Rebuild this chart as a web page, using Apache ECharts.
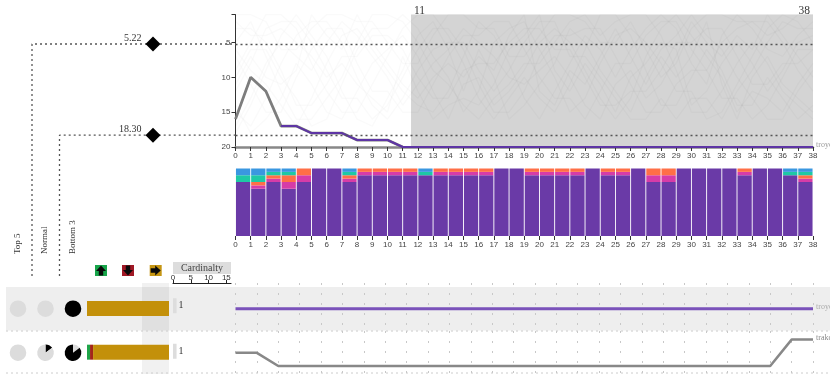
<!DOCTYPE html>
<html><head><meta charset="utf-8">
<style>html,body{margin:0;padding:0;background:#fff}#c{width:830px;height:374px}</style>
<script src="https://cdn.jsdelivr.net/npm/echarts@6/dist/echarts.min.js"></script>
</head><body><div id="c"></div>
<script>
const thresholds = [5.22, 18.30];
const rangeStart = 11.55, rangeEnd = 38;
const focusRanks = [16,10,12,17,17,18,18,18,19,19,19,20];
const purpleRanks = [null,null,null,17,17,18,18,18,19,19,19,20,20,20,20,20,20,20,20,20,20,20,20,20,20,20,20,20,20,20,20,20,20,20,20,20,20,20,20];
const blueCounts    = [2,2,1,1,0,0,0,1,0,0,0,0,1,0,0,0,0,0,0,0,0,0,0,0,0,0,0,0,0,0,0,0,0,0,0,0,1,1];
const tealCounts    = [2,2,1,1,0,0,0,1,0,0,0,0,1,0,0,0,0,0,0,0,0,0,0,0,0,0,0,0,0,0,0,0,0,0,0,0,1,1];
const orangeCounts  = [0,1,1,2,2,0,0,1,1,1,1,1,0,1,1,1,1,0,0,1,1,1,1,0,1,1,0,2,2,0,0,0,0,1,0,0,0,1];
const magentaCounts = [0,1,1,2,2,0,0,1,1,1,1,1,0,1,1,1,1,0,0,1,1,1,1,0,1,1,0,2,2,0,0,0,0,1,0,0,0,1];
const purpleCounts  = [16,14,16,14,16,20,20,16,18,18,18,18,18,18,18,18,18,20,20,18,18,18,18,20,18,18,20,16,16,20,20,20,20,18,20,20,18,16];
const rowOneTrend = [0,0,0,0,0,0,0,0,0,0,0,0,0,0,0,0,0,0,0,0,0,0,0,0,0,0,0,0];
const rowTwoTrend = [1,1,0,0,0,0,0,0,0,0,0,0,0,0,0,0,0,0,0,0,0,0,0,0,0,0,2,2];
const upMoves = [0,1], downMoves = [0,1], flatMoves = [27,25];
const cardinality = [1,1];
const topShare = [[0,27],[0,27]];
const normalShare = [[0,27],[4,23]];
const bottomShare = [[27,0],[0,4,23]];
const backgroundRanks = [
[3,3,5,9,14,14,11,7,7,4,4,6,10,13,13,9,8,8,5,3,3,6,6,10,14,14,12,12,9,5,5,3,3,7,11,11,8,8,6],
[7,11,15,15,10,6,3,3,8,12,12,15,15,11,7,4,4,2,2,6,10,13,13,16,12,8,8,4,2,2,6,9,13,13,16,14,10,6,6],
[12,8,3,2,2,5,9,13,13,16,14,10,6,3,3,6,11,15,15,12,7,4,4,3,3,7,11,15,15,11,9,9,5,3,2,2,5,9,12],
[1,1,2,6,6,3,1,1,2,2,5,8,8,4,1,1,3,3,7,7,4,1,1,2,5,5,2,6,10,8,3,1,1,2,2,4,3,1,1],
[15,17,13,8,4,2,2,5,10,14,16,13,9,6,5,5,9,12,9,5,2,2,7,7,10,13,16,16,13,16,13,13,16,12,9,5,2,3,3],
[9,5,1,1,3,8,12,15,15,11,7,3,1,1,4,8,13,16,13,10,13,15,11,6,1,1,4,9,14,14,10,6,9,14,14,10,13,16,14],
[5,2,7,12,16,16,13,10,5,1,1,2,5,9,11,14,16,13,11,8,8,5,2,1,4,2,1,1,4,9,15,15,12,8,5,8,12,14,16],
[18,14,9,4,1,4,7,12,16,17,13,9,4,2,6,12,6,10,16,14,11,8,3,5,9,12,15,10,6,4,1,4,6,10,13,16,16,12,9],
[10,6,6,10,13,17,16,11,6,3,3,1,3,7,10,15,12,5,3,2,6,10,15,13,8,4,3,5,8,12,12,16,15,11,7,3,1,2,5],
[14,18,16,13,8,11,15,16,12,8,6,4,7,12,16,11,10,14,12,9,5,3,5,9,13,16,13,7,3,1,4,7,10,15,12,13,15,11,8],
[6,9,11,14,17,13,8,4,3,6,9,12,14,15,12,7,2,4,8,13,16,12,8,4,6,10,6,3,1,3,8,11,4,1,3,6,7,4,2],
[17,13,8,5,7,9,5,2,4,7,10,14,11,8,6,3,5,7,10,11,9,7,10,14,16,11,9,13,11,7,2,5,7,4,6,1,4,7,10],
[2,4,4,3,5,7,10,8,11,13,15,7,12,16,14,13,14,11,6,4,1,9,12,8,11,15,10,8,5,6,14,12,8,5,8,12,9,5,4],
[11,7,10,11,9,1,4,6,1,5,8,11,13,10,8,10,7,9,4,1,12,14,9,11,7,3,7,11,7,10,7,2,11,16,10,7,11,13,15]
];
const tickLabels = [];
for (let i = 0; i <= 38; i++) tickLabels.push(i);

const sans = 'Liberation Sans', serif = 'Liberation Serif';
const dash = {color:'#555', width:1.3, type:[2,3]};
const barCats = ['troye','trako'];
const chart = echarts.init(document.getElementById('c'), null, {renderer:'canvas'});

function pieSeries(d, cx, cy){
  return {type:'pie', silent:true, animation:false, center:[cx,cy], radius:[0,8.3], startAngle:90, z:3,
    label:{show:false}, labelLine:{show:false}, emphasis:{disabled:true}, data:d};
}
function blackGrey(vals){
  return [{value:vals[0],itemStyle:{color:'#000'}},{value:vals[1],itemStyle:{color:'#dcdcdc'}}];
}
function greyBlack(vals){
  return [{value:vals[1],itemStyle:{color:'#dcdcdc'}},{value:vals[2],itemStyle:{color:'#000'}}];
}
const stackItem = (name, data, color) => ({type:'bar', name, data, stack:'s', xAxisIndex:2, yAxisIndex:1, barCategoryGap:'6%', itemStyle:{color}, silent:true});

function arrow(cx, cy, rot, color){
  return [
    {type:'rect', shape:{x:cx-6,y:cy-5.5,width:12,height:11}, style:{fill:color}},
    {type:'polygon', x:cx, y:cy, rotation:rot, originX:0, originY:0,
     shape:{points:[[0,-5],[5,0.5],[2.2,0.5],[2.2,5],[-2.2,5],[-2.2,0.5],[-5,0.5]]}, style:{fill:'#0a0a0a'}}
  ];
}

const option = {
  animation:false,
  grid:[
    {left:235.5, width:577.5, top:14.6, height:132.4},
    {left:235.5, width:577.5, top:168.5, height:67.5},
    {left:235.5, width:577.5, top:283, height:48},
    {left:235.5, width:577.5, top:331, height:43},
    {left:87, width:82, top:286.7, height:88},
    {left:173, width:58, top:283, height:91.7},
    {left:0, width:235.5, top:14.6, height:261.4}
  ],
  xAxis:[
    {gridIndex:0,type:'value',min:0,max:38,interval:1,position:'bottom',splitLine:{show:false},
     axisLine:{lineStyle:{color:'#888',width:2.5}},axisTick:{length:4,lineStyle:{color:'#333'}},
     axisLabel:{fontFamily:sans,fontSize:8,color:'#444',margin:5,hideOverlap:false,showMinLabel:true,showMaxLabel:true}},
    {gridIndex:1,type:'value',min:0,max:38,interval:1,position:'bottom',splitLine:{show:false},
     axisLine:{show:false},axisTick:{show:true,length:4,lineStyle:{color:'#333'}},
     axisLabel:{fontFamily:sans,fontSize:8,color:'#444',margin:5,hideOverlap:false}},
    {gridIndex:1,type:'category',data:tickLabels.slice(0,38),show:false},
    {gridIndex:2,type:'value',min:0,max:27,interval:1,axisLine:{show:false},axisTick:{show:false},axisLabel:{show:false},
     splitLine:{show:true,lineStyle:{color:'#c8c8c8',width:1,type:[2,8]}}},
    {gridIndex:3,type:'value',min:0,max:27,interval:1,axisLine:{show:false},axisTick:{show:false},axisLabel:{show:false},
     splitLine:{show:true,lineStyle:{color:'#c8c8c8',width:1,type:[2,8]}}},
    {gridIndex:4,type:'value',min:0,max:27,show:false},
    {gridIndex:5,type:'value',min:0,max:16.3,position:'top',interval:5,splitLine:{show:false},
     axisLine:{show:true,onZero:false,lineStyle:{color:'#222',width:1.2}},
     axisTick:{show:true,length:3,lineStyle:{color:'#222'},customValues:[0,5,10,15]},
     axisLabel:{fontFamily:sans,fontSize:8,color:'#333',margin:1,customValues:[0,5,10,15]}},
    {gridIndex:6,type:'value',min:0,max:235.5,show:false}
  ],
  yAxis:[
    {gridIndex:0,type:'value',inverse:true,min:1,max:20,interval:5,splitLine:{show:false},
     axisLine:{show:true,onZero:false,lineStyle:{color:'#333'}},
     axisTick:{show:true,length:4,lineStyle:{color:'#333'},customValues:[1,5,10,15,20]},
     axisLabel:{fontFamily:sans,fontSize:8,color:'#444',margin:5,customValues:[5,10,15,20]}},
    {gridIndex:1,type:'value',min:0,max:20,show:false},
    {gridIndex:2,type:'value',min:-0.93,max:1.07,show:false},
    {gridIndex:3,type:'value',min:-0.6,max:2.65,show:false},
    {gridIndex:4,type:'category',inverse:true,data:barCats,show:false},
    {gridIndex:5,type:'category',inverse:true,data:barCats,show:false},
    {gridIndex:6,type:'value',inverse:true,min:1,max:38.5,show:false}
  ],
  series:[
    {type:'line',xAxisIndex:0,yAxisIndex:0,data:[],z:1,silent:true,
     markArea:{silent:true,itemStyle:{color:'#d4d4d4'},data:[[{xAxis:rangeStart,yAxis:1},{xAxis:rangeEnd,yAxis:20}]]}},
    ...backgroundRanks.map(r=>({type:'line',xAxisIndex:0,yAxisIndex:0,z:2,silent:true,showSymbol:false,
       lineStyle:{color:'rgba(0,0,0,0.02)',width:1.5},data:r.map((v,i)=>[i,v])})),
    {type:'line',xAxisIndex:0,yAxisIndex:0,z:3,silent:true,showSymbol:false,clip:false,
     markLine:{silent:true,symbol:'none',label:{show:false},lineStyle:dash,data:thresholds.map(t=>({yAxis:t}))},
     lineStyle:{color:'#7d7d7d',width:2.8},data:focusRanks.map((v,i)=>[i,v])},
    {type:'line',xAxisIndex:0,yAxisIndex:0,z:4,silent:true,showSymbol:false,clip:false,connectNulls:false,
     lineStyle:{color:'#5e35a5',width:2},data:purpleRanks.map((v,i)=>[i,v]),
     endLabel:{show:true,formatter:'troye',fontFamily:serif,fontSize:8,color:'#999',distance:3,offset:[0,-2]}},
    stackItem('purple',purpleCounts,'#6a3aa7'),
    stackItem('magenta',magentaCounts,'#d63ca8'),
    stackItem('orange',orangeCounts,'#ff6f47'),
    stackItem('teal',tealCounts,'#1ec9a5'),
    stackItem('blue',blueCounts,'#3a97e0'),
    {type:'line',xAxisIndex:3,yAxisIndex:2,z:3,silent:true,showSymbol:false,
     lineStyle:{color:'#7a52ba',width:3},data:rowOneTrend.map((v,i)=>[i,v]),
     endLabel:{show:true,formatter:'troye',fontFamily:serif,fontSize:8,color:'#aaa',distance:3,offset:[0,-2]}},
    {type:'line',xAxisIndex:4,yAxisIndex:3,z:3,silent:true,showSymbol:false,
     lineStyle:{color:'#888',width:2.5},data:rowTwoTrend.map((v,i)=>[i,v]),
     endLabel:{show:true,formatter:'trako',fontFamily:serif,fontSize:8,color:'#888',distance:3,offset:[0,-2]}},
    {type:'bar',xAxisIndex:5,yAxisIndex:4,stack:'m',barWidth:15,silent:true,itemStyle:{color:'#1fa54a'},data:upMoves},
    {type:'bar',xAxisIndex:5,yAxisIndex:4,stack:'m',barWidth:15,silent:true,itemStyle:{color:'#a3261b'},data:downMoves},
    {type:'bar',xAxisIndex:5,yAxisIndex:4,stack:'m',barWidth:15,silent:true,itemStyle:{color:'#c3900a'},data:flatMoves},
    {type:'bar',xAxisIndex:6,yAxisIndex:5,barWidth:15,silent:true,itemStyle:{color:'#dddddd'},data:cardinality,
     label:{show:true,position:'right',distance:2,fontFamily:serif,fontSize:10,color:'#333'}},
    ...thresholds.map((t,i)=>({type:'line',xAxisIndex:7,yAxisIndex:6,z:2,silent:true,showSymbol:false,
      lineStyle:dash,data:[[i===0?32:59.5,38.5],[i===0?32:59.5,t],[235.5,t]]})),
    {type:'scatter',xAxisIndex:7,yAxisIndex:6,z:5,silent:true,symbol:'diamond',symbolSize:[15,15],
     itemStyle:{color:'#000',opacity:1},data:thresholds.map(t=>[153,t]),
     label:{show:true,position:'left',distance:4,offset:[0,-6],fontFamily:serif,fontSize:10,color:'#333',
       formatter:p=>p.value[1].toFixed(2)}},
    pieSeries(blackGrey(topShare[0]),18,308.7),
    pieSeries(blackGrey(normalShare[0]),45.5,308.7),
    pieSeries(blackGrey(bottomShare[0]),73,308.7),
    pieSeries(blackGrey(topShare[1]),18,352.7),
    pieSeries(blackGrey(normalShare[1]),45.5,352.7),
    pieSeries(greyBlack(bottomShare[1]),73,352.7)
  ],
  graphic:[
    {type:'rect',z:-2,shape:{x:6,y:287,width:824,height:43.5},style:{fill:'#eeeeee'}},
    {type:'rect',z:-1,shape:{x:142,y:283,width:27,height:91},style:{fill:'rgba(0,0,0,0.055)'}},
    {type:'line',z:-1,shape:{x1:6,y1:331,x2:830,y2:331},style:{stroke:'#ccc',lineWidth:1,lineDash:[2,3]}},
    {type:'line',z:-1,shape:{x1:6,y1:373,x2:830,y2:373},style:{stroke:'#ccc',lineWidth:1,lineDash:[2,3]}},
    {type:'text',x:414,y:5,style:{text:'11',fontFamily:serif,fontSize:11.5,fill:'#333'}},
    {type:'text',x:798.5,y:5,style:{text:'38',fontFamily:serif,fontSize:11.5,fill:'#333'}},
    {type:'text',x:13,y:254,rotation:Math.PI/2,style:{text:'Top 5',fontFamily:serif,fontSize:9,fill:'#333'}},
    {type:'text',x:40.5,y:254,rotation:Math.PI/2,style:{text:'Normal',fontFamily:serif,fontSize:9,fill:'#333'}},
    {type:'text',x:68,y:254,rotation:Math.PI/2,style:{text:'Bottom 3',fontFamily:serif,fontSize:9,fill:'#333'}},
    {type:'rect',shape:{x:173,y:262,width:58,height:12},style:{fill:'#dddddd'}},
    {type:'text',x:202,y:268,style:{text:'Cardinalty',fontFamily:serif,fontSize:10,fill:'#444',align:'center',verticalAlign:'middle'}},
    ...arrow(101,270.5,0,'#17a54a'),
    ...arrow(128,270.5,Math.PI,'#a01825'),
    ...arrow(155.7,270.5,-Math.PI/2,'#c59513')
  ]
};
chart.setOption(option);
</script></body></html>
